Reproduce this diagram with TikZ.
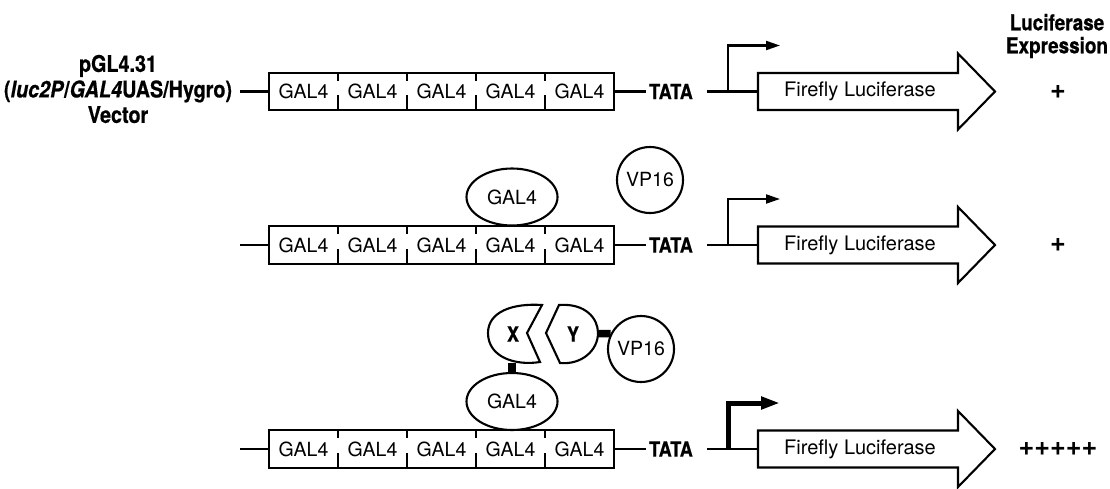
\documentclass[tikz,border=0pt]{standalone}
\usepackage{fontspec}
\setmainfont{TeX Gyre Heros}
\newfontfamily\cnd[FakeStretch=0.86,FakeBold=0.6]{TeX Gyre Heros}
\usetikzlibrary{shapes.geometric,arrows.meta}
\begin{document}
\begin{tikzpicture}[x=1pt,y=-1pt,
  lw/.style={line width=2.1pt},
  seg/.style={minimum width=69pt,minimum height=37pt,inner sep=0pt,
    font=\fontsize{19.5}{19.5}\selectfont},
  tata/.style={inner xsep=2.5pt,inner ysep=0pt,font=\cnd\bfseries\fontsize{21}{21}\selectfont},
  luc/.style={inner sep=0pt,font=\fontsize{20}{20}\selectfont},
  lab/.style={inner sep=0pt,align=center,font=\cnd\bfseries\fontsize{23}{25.5}\selectfont},
  labr/.style={inner sep=0pt,align=center,font=\cnd\bfseries\fontsize{22}{23}\selectfont},
  plus/.style={inner sep=0pt,font=\bfseries\fontsize{27}{27}\selectfont},
  prot/.style={lw,draw,fill=white,inner sep=0pt,font=\fontsize{19.5}{19.5}\selectfont},
  letter/.style={inner sep=0pt,font=\cnd\bfseries\fontsize{21}{21}\selectfont},
  bar/.style={line width=7.5pt}
]
\useasboundingbox (0,0) rectangle (1110,488);

\node[lab] (vec) at (118,89) {pGL4.31\\(\textit{luc2P}/\textit{GAL4}UAS/Hygro)\\Vector};
\node[labr] (le) at (1057,36) {Luciferase\\Expression};

\foreach \r/\y/\pw/\tl/\tw/\p in {1/91.5/2.1/14/9/+,2/245/2.1/14/9/+,3/449/5/19/12/+++++} {
  \foreach \i in {1,...,5} \node[seg] (g\r-\i) at ({234.5+69*\i},\y) {GAL4};
  \draw[lw] (g\r-1.north west) rectangle (g\r-5.south east);
  \foreach \i in {1,...,4} {
    \draw[lw] (g\r-\i.north east) -- ++(0,8);
    \draw[lw] (g\r-\i.south east) -- ++(0,-15);
  }
  \coordinate (l\r) at (240,\y);
  \draw[lw] (l\r) -- (g\r-1.west);
  \node[tata] (t\r) at (671,\y) {TATA};
  \draw[lw] (g\r-5.east) -- (t\r.west);
  \coordinate (s\r) at (707,\y);
  \coordinate (a\r) at (758,\y);
  \coordinate (b\r) at (728,\y);
  \draw[lw] (s\r) -- (a\r);
  \draw[lw,fill=white] (758,{\y-18.5}) -- (958,{\y-18.5}) -- (958,{\y-38}) -- (995,\y)
     -- (958,{\y+38}) -- (958,{\y+18.5}) -- (758,{\y+18.5}) -- cycle;
  \node[luc] (f\r) at (860,\y) {Firefly Luciferase};
  \draw[line width=\pw pt,-{Triangle[length=\tl pt,width=\tw pt]}] (b\r) -- ++(0,-46) -- ++(52,0);
  \node[plus] (e\r) at (1058,\y) {\p};
}

% row 2 proteins
\node[prot,ellipse,minimum width=91pt,minimum height=57pt] (gal2) at (512,197) {GAL4};
\node[prot,circle,minimum size=66pt] (vp2) at (650,180) {VP16};

% row 3 proteins
\node[prot,ellipse,minimum width=91pt,minimum height=57pt] (gal3) at (512,401.5) {GAL4};
\node[prot,circle,minimum size=66pt] (vp3) at (641,349) {VP16};
\draw[lw,fill=white] (542,305) -- (527,333) -- (540,362)
   .. controls (515,366) and (488,357) .. (488,333)
   .. controls (488,312) and (512,303) .. cycle;
\draw[lw,fill=white] (546,333) -- (559,305)
   .. controls (585,303) and (598,318) .. (598,333)
   .. controls (598,350) and (582,365) .. (560,363) -- cycle;
\node[letter] (x) at (513,334) {X};
\node[letter] (yy) at (573,334) {Y};
\coordinate (xb) at (512,363);
\coordinate (yr) at (598,333.6);
\draw[bar] (xb) -- (gal3.north);
\draw[bar] (yr) -- (vp3.153);
\end{tikzpicture}
\end{document}
